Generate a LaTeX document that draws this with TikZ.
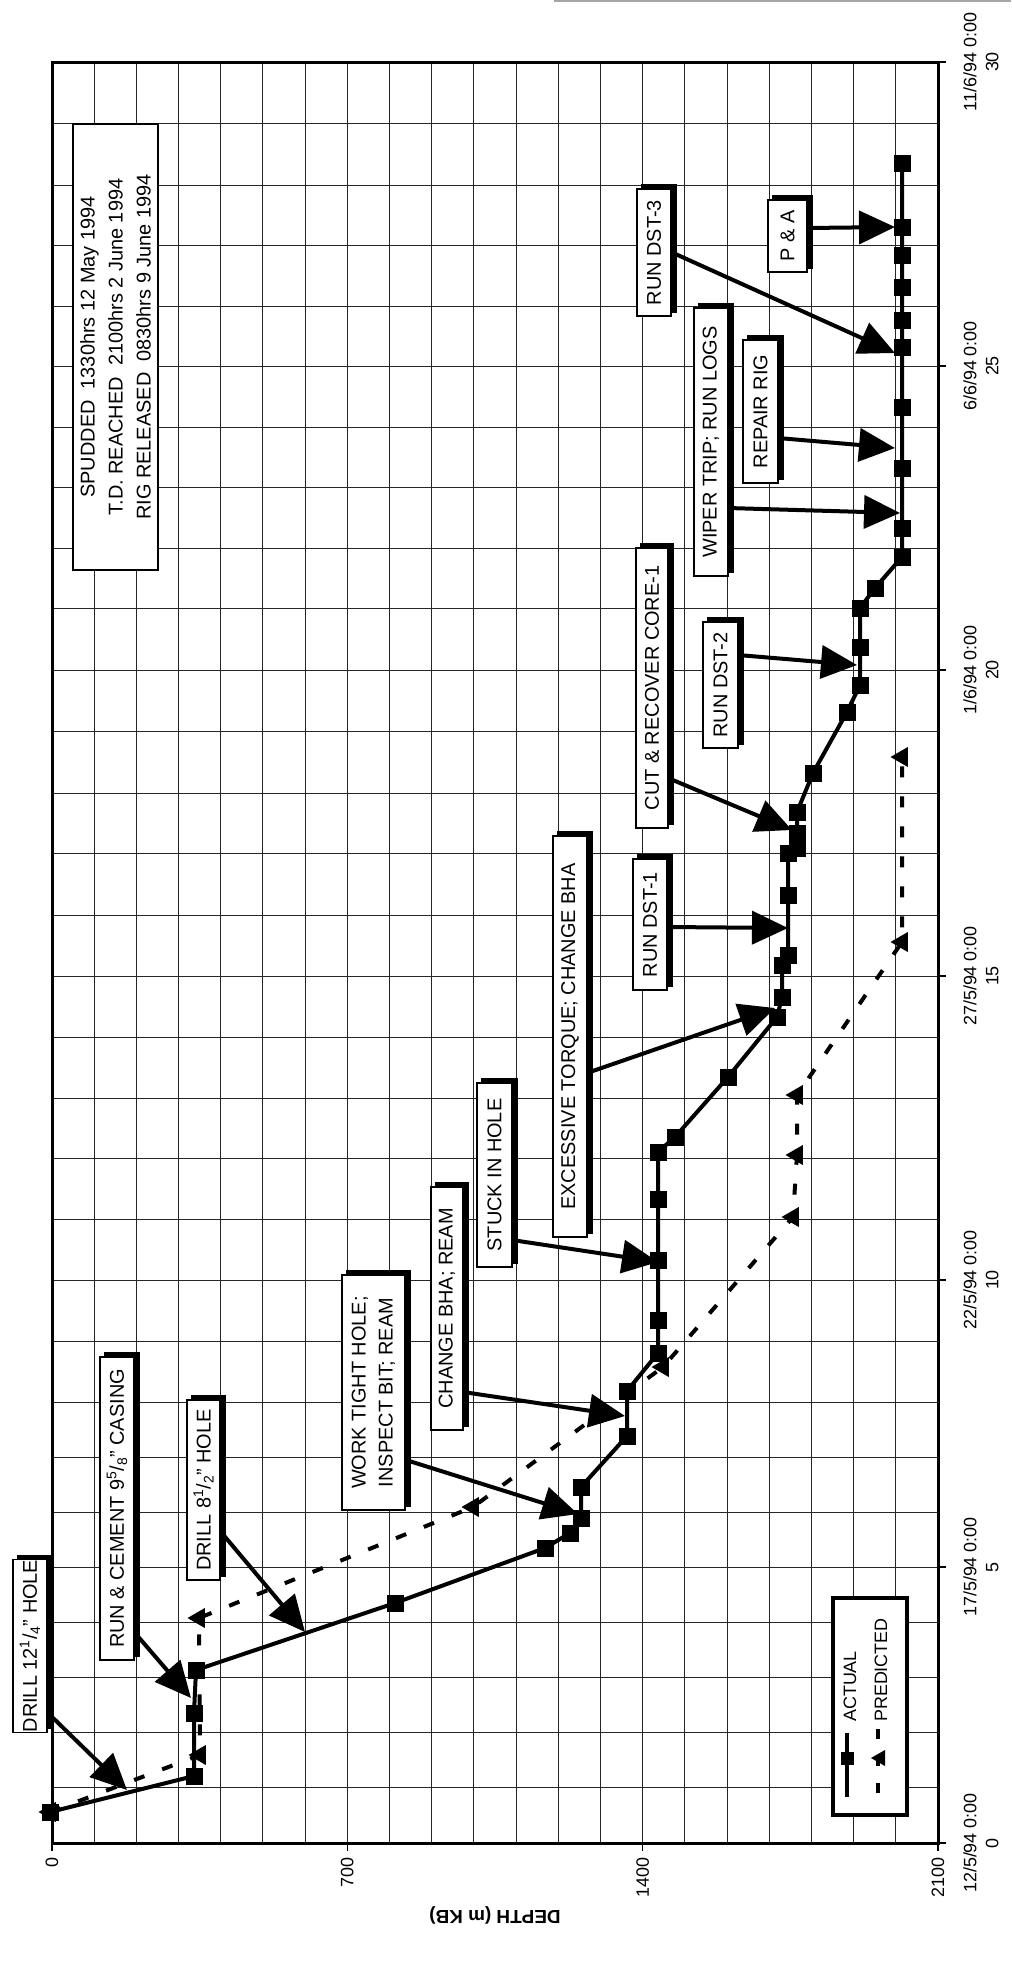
\documentclass[tikz,border=0pt]{standalone}
\usepackage{fontspec}
\setmainfont{Liberation Sans}
\usetikzlibrary{arrows.meta,plotmarks}
\pgfdeclarelayer{gridlayer}
\pgfdeclarelayer{shadowlayer}
\pgfsetlayers{gridlayer,shadowlayer,main}
\begin{document}
\begin{tikzpicture}[x=1bp,y=-1bp,
  gridline/.style={line width=1bp, black!85},
  frame/.style={line width=3bp, black},
  lbl/.style={draw, line width=1.6bp, fill=white, inner sep=0pt, rotate=90,
     font=\fontsize{20}{27}\selectfont, align=center},
  infobox/.style={draw, line width=2.6bp, fill=white, inner sep=0pt, rotate=90,
     font=\fontsize{20}{28}\selectfont, align=center},
  legbox/.style={draw, line width=3.6bp, fill=white, inner sep=0pt},
  arr/.style={line width=4bp, -{Triangle[length=36bp,width=33bp]}},
  actual/.style={line width=4bp, black},
  predicted/.style={line width=4bp, black, dash pattern=on 11bp off 19bp},
  ticklbl/.style={font=\fontsize{18}{22}\selectfont, rotate=90, inner sep=0pt},
  daylbl/.style={font=\fontsize{18}{22}\selectfont, rotate=90, align=center, inner sep=0pt},
  leglbl/.style={font=\fontsize{18}{22}\selectfont, rotate=90, inner sep=0pt, anchor=west}
]
\useasboundingbox (0,0) rectangle (1011,1975);

% faint scan line at top right
\draw[black!35, line width=1.5bp] (554,1) -- (1011,1);

% grid
\begin{pgfonlayer}{gridlayer}
\foreach \k in {1,...,20} \draw[gridline] ({52+42.19*\k},62) -- ({52+42.19*\k},1843);
\foreach \yy in {1787,1732,1677,1622,1567,1512,1457,1402,1341,1280,1219,1158,1098,1037,976,915,853,793,731,670,608,548,487,427,366,306,245,185,123}
  \draw[gridline] (52,\yy) -- (938,\yy);
\end{pgfonlayer}

% frame and ticks
\draw[frame] (52,62) rectangle (938,1843);
\foreach \xx in {52,347.3,642.7,938} \draw[line width=1.5bp] (\xx,1843) -- (\xx,1851);
\foreach \yy in {1843,1567,1280,976,670,366,62} \draw[line width=1.5bp] (938,\yy) -- (946,\yy);

% depth labels
\node[ticklbl, anchor=east] (dl0) at (52,1857) {0};
\node[ticklbl, anchor=east] (dl700) at (347.3,1857) {700};
\node[ticklbl, anchor=east] (dl1400) at (642.7,1857) {1400};
\node[ticklbl, anchor=east] (dl2100) at (938,1857) {2100};
\node[font=\fontsize{19}{22}\selectfont\bfseries, rotate=180, inner sep=0pt] (dtitle) at (495,1915) {DEPTH (m KB)};

% day labels
\node[daylbl] (t0) at (981,1843) {12/5/94 0:00\\0};
\node[daylbl] (t5) at (981,1567) {17/5/94 0:00\\5};
\node[daylbl] (t10) at (981,1280) {22/5/94 0:00\\10};
\node[daylbl] (t15) at (981,976) {27/5/94 0:00\\15};
\node[daylbl] (t20) at (981,670) {1/6/94 0:00\\20};
\node[daylbl] (t25) at (981,366) {6/6/94 0:00\\25};
\node[daylbl] (t30) at (981,62) {11/6/94 0:00\\30};

% predicted series
\draw[predicted] plot[mark=triangle*, mark size=7.5bp, mark options={solid, fill=black, rotate=90}] coordinates {
 (50,1812) (200,1755) (199,1618) (473,1507) (663,1367) (793,1217) (797,1155) (797,1095) (902,942) (902,757)};

% actual series
\draw[actual] plot[mark=square*, mark size=6.5bp, mark options={fill=black}] coordinates {
 (50,1812) (194,1776) (194,1713) (196,1670) (395,1603) (545,1548) (570,1533) (581,1518) (581,1487)
 (627,1436) (627,1391) (658,1353) (658,1320) (658,1260) (658,1199) (658,1152) (675,1137) (728,1077)
 (777,1017) (782,997) (782,965) (788,955) (788,895) (788,853) (797,848) (797,833) (797,812) (813,773)
 (847,712) (860,685) (860,647) (860,608) (875,588) (902,557) (902,528) (902,468) (902,407) (902,347)
 (902,320) (902,287) (902,255) (902,227) (902,163)};

% information box
\node[infobox, minimum width=446bp, minimum height=85bp] (info) at (115.5,347)
 {SPUDDED\ \ 1330hrs 12 May 1994\\T.D. REACHED\ \ 2100hrs 2 June 1994\\RIG RELEASED\ \ 0830hrs 9 June 1994};

% event boxes
\node[lbl, minimum width=172bp, minimum height=34bp] (b1) at (30,1646) {DRILL 12\textsuperscript{1}/\textsubscript{4}" HOLE};
\node[lbl, minimum width=303bp, minimum height=34bp] (b2) at (117,1508.5) {RUN \& CEMENT 9\textsuperscript{5}/\textsubscript{8}" CASING};
\node[lbl, minimum width=180bp, minimum height=33bp] (b3) at (203.5,1490) {DRILL 8\textsuperscript{1}/\textsubscript{2}" HOLE};
\node[lbl, minimum width=235bp, minimum height=63bp] (b4) at (373.5,1392.5) {WORK TIGHT HOLE;\\INSPECT BIT; REAM};
\node[lbl, minimum width=243bp, minimum height=32bp] (b5) at (447,1308.5) {CHANGE BHA; REAM};
\node[lbl, minimum width=184bp, minimum height=35bp] (b6) at (494.5,1175) {STUCK IN HOLE};
\node[lbl, minimum width=401bp, minimum height=34bp] (b7) at (570,1036.5) {EXCESSIVE TORQUE; CHANGE BHA};
\node[lbl, minimum width=131bp, minimum height=34bp] (b8) at (650,924.5) {RUN DST-1};
\node[lbl, minimum width=280bp, minimum height=32bp] (b9) at (652,688) {CUT \& RECOVER CORE-1};
\node[lbl, minimum width=126bp, minimum height=35bp] (b10) at (720.5,685) {RUN DST-2};
\node[lbl, minimum width=268bp, minimum height=34bp] (b11) at (711,442) {WIPER TRIP; RUN LOGS};
\node[lbl, minimum width=143bp, minimum height=35bp] (b12) at (760.5,411.5) {REPAIR RIG};
\node[lbl, minimum width=127bp, minimum height=34bp] (b13) at (654,252.5) {RUN DST-3};
\node[lbl, minimum width=72bp, minimum height=39bp] (b14) at (787.5,236) {P \& A};

\begin{pgfonlayer}{shadowlayer}
\foreach \n in {b1,b2,b3,b4,b5,b6,b7,b8,b9,b10,b11,b12,b13,b14}
  \fill[black] ([shift={(5,-4)}]\n.north west) rectangle ([shift={(5,-4)}]\n.south east);
\end{pgfonlayer}

% arrow ends
\coordinate (s1) at (48,1713);   \coordinate (e1) at (127,1790);
\coordinate (s2) at (135,1633);  \coordinate (e2) at (191,1698);
\coordinate (s3) at (221,1532);  \coordinate (e3) at (305,1632);
\coordinate (s4) at (406,1460);  \coordinate (e4) at (578,1514);
\coordinate (s5) at (463,1392);  \coordinate (e5) at (625,1416);
\coordinate (s6) at (512,1240);  \coordinate (e6) at (658,1262);
\coordinate (s7) at (587,1073);  \coordinate (e7) at (775,1008);
\coordinate (s8) at (667,927);   \coordinate (e8) at (788,928);
\coordinate (s9) at (668,778);   \coordinate (e9) at (792,830);
\coordinate (s10) at (738,655);  \coordinate (e10) at (857,665);
\coordinate (s11) at (728,508);  \coordinate (e11) at (900,513);
\coordinate (s12) at (778,438);  \coordinate (e12) at (895,448);
\coordinate (s13) at (671,252);  \coordinate (e13) at (895,353);
\coordinate (s14) at (807,228);  \coordinate (e14) at (895,227);
\foreach \i in {1,...,14} \draw[arr] (s\i) -- (e\i);

% legend
\node[legbox, minimum width=74bp, minimum height=217bp] (leg) at (870,1706.5) {};
\coordinate (la1) at (847,1797); \coordinate (la2) at (847,1733);
\draw[actual] (la1) -- (la2);
\fill (840.5,1751.5) rectangle (853.5,1764.5);
\coordinate (lp1) at (878,1797); \coordinate (lp2) at (878,1726);
\draw[line width=4bp, dash pattern=on 10bp off 17bp, dash phase=-4bp] (lp1) -- (lp2);
\fill (871,1758) -- (885,1750) -- (885,1766) -- cycle;
\node[leglbl] (lgA) at (850,1722) {ACTUAL};
\node[leglbl] (lgP) at (881,1722) {PREDICTED};
\end{tikzpicture}
\end{document}
